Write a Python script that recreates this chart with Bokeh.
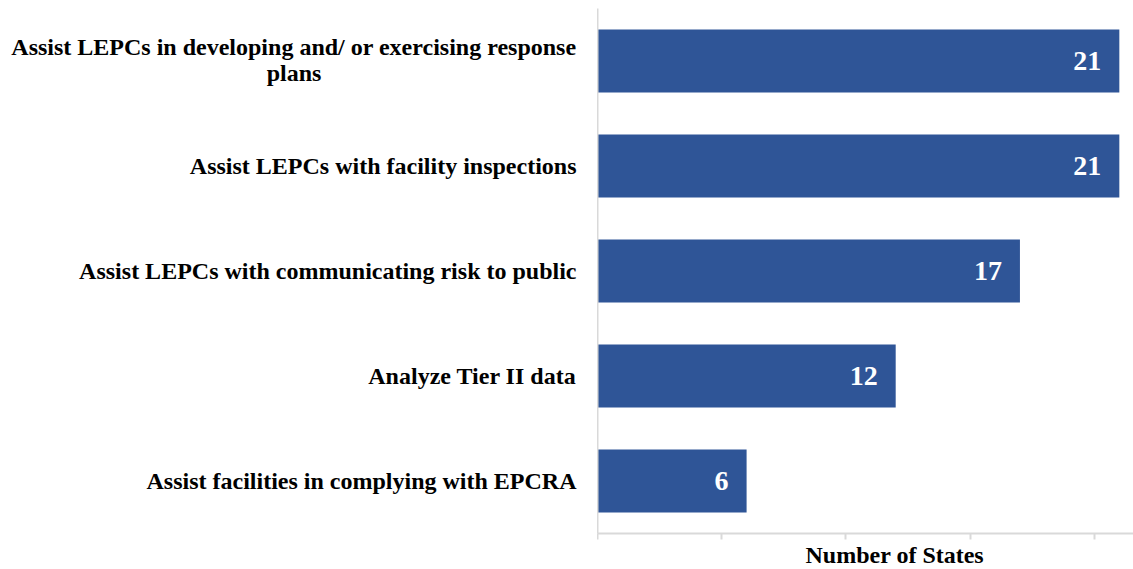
from bokeh.plotting import figure
from bokeh.layouts import row
from bokeh.models import FactorRange, Range1d, ColumnDataSource, FixedTicker, Title
from bokeh.core.properties import value
from bokeh.embed import file_html
from bokeh.resources import INLINE

categories = [
    "Assist LEPCs in developing and/ or exercising response plans",
    "Assist LEPCs with facility inspections",
    "Assist LEPCs with communicating risk to public",
    "Analyze Tier II data",
    "Assist facilities in complying with EPCRA",
]
# the first label wraps onto a second, centred line
first_line = "Assist LEPCs in developing and/ or exercising response"
second_line = "plans"
states = [21, 21, 17, 12, 6]
x_ticks = [0, 5, 10, 15, 20]
x_label = "Number of States"

BAR = "#2F5597"
GRID = "#D9D9D9"
FONT = "Liberation Serif"
TOP = 8
FH = 525

yr = FactorRange(factors=categories[::-1], range_padding=0)

# ---- left panel: category labels ----
lp = figure(width=597, frame_height=FH, y_range=yr, x_range=Range1d(0, 597),
            x_axis_location=None, y_axis_location=None,
            min_border_left=0, min_border_right=0, min_border_top=TOP, min_border_bottom=31,
            output_backend="svg", toolbar_location=None)
lp.xgrid.visible = False
lp.ygrid.visible = False
lp.outline_line_color = None

main_src = ColumnDataSource(dict(
    cat=categories,
    txt=[first_line] + categories[1:],
    dy=[-14, 0, 0, 0, 0],
))
lp.text(x=576, y="cat", text="txt", y_offset="dy", source=main_src, text_align="right",
        text_baseline="middle", text_color="black", text_font=value(FONT),
        text_font_style="bold", text_font_size="24px")
wrap_src = ColumnDataSource(dict(cat=[categories[0]], txt=[second_line]))
lp.text(x=293.5, y="cat", text="txt", y_offset=12, source=wrap_src, text_align="center",
        text_baseline="middle", text_color="black", text_font=value(FONT),
        text_font_style="bold", text_font_size="24px")

# ---- main panel: bars ----
src = ColumnDataSource(dict(cat=categories, val=states, lbl=[str(v) for v in states]))
p = figure(
    y_range=yr, x_range=Range1d(0, 21.57),
    frame_width=536, frame_height=FH,
    min_border_left=0, min_border_top=TOP, min_border_right=0, min_border_bottom=0,
    output_backend="svg", toolbar_location=None,
)
p.hbar(y="cat", right="val", left=0, height=0.6, source=src, color=BAR, line_color=None)
p.text(x="val", y="cat", text="lbl", source=src, x_offset=-18, text_align="right",
       text_baseline="middle", text_color="white", text_font=value(FONT),
       text_font_style="bold", text_font_size="28px")

p.xgrid.visible = False
p.ygrid.visible = False
p.outline_line_color = None

xa = p.xaxis[0]
xa.ticker = FixedTicker(ticks=x_ticks)
xa.major_label_overrides = {t: "" for t in x_ticks}
xa.major_label_standoff = 0
xa.axis_line_color = GRID
xa.axis_line_width = 2
xa.major_tick_line_color = GRID
xa.major_tick_line_width = 2
xa.major_tick_out = 6
xa.major_tick_in = 0
xa.minor_tick_line_color = None

ya = p.yaxis[0]
ya.ticker = FixedTicker(ticks=[])
ya.axis_line_color = GRID
ya.axis_line_width = 2
ya.major_tick_line_color = None
ya.minor_tick_line_color = None
ya.major_label_standoff = 0

p.add_layout(Title(text=x_label, align="left", offset=208, standoff=0,
                   text_font=FONT, text_font_style="bold", text_font_size="24px",
                   text_color="black"), "below")

layout = row(lp, p)
open("out.html", "w").write(file_html(layout, INLINE))
